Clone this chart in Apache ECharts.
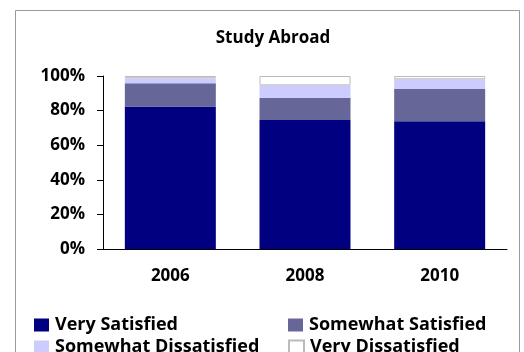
<!DOCTYPE html>
<html>
<head>
<meta charset="utf-8">
<script src="https://cdn.jsdelivr.net/npm/echarts@6/dist/echarts.min.js"></script>
<style>
html,body{margin:0;padding:0;background:#fff;}
#main{width:524px;height:352px;}
</style>
</head>
<body>
<div id="main"></div>
<script>
var years = ['2006', '2008', '2010'];
var verySatisfied = [82.3, 74.6, 73.8];
var somewhatSatisfied = [13.5, 12.9, 18.7];
var somewhatDissatisfied = [2.9, 7.1, 5.6];
var veryDissatisfied = [1.3, 5.4, 1.9];
var yTicks = [0, 20, 40, 60, 80, 100];

var font = '"Open Sans", sans-serif';

function bar(name, data, color, border){
	return {
		name : name,
		type : 'bar',
		stack : 'total',
		barWidth : 91,
		data : data,
		itemStyle : {
			color : color,
			borderColor : border || color,
			borderWidth : border ? 1 : 0
		}
	};
}

//每个图例单独放，两列两行
function leg(name, left, top){
	return {
		data : [name],
		left : left,
		top : top,
		itemWidth : 15,
		itemHeight : 13,
		itemGap : 0,
		icon : 'rect',
		textStyle : { fontFamily : font, fontSize : 18, fontWeight : 'bold', color : '#000', lineHeight : 22, padding : [0, 0, 0, 1] }
	};
}

var myChart = echarts.init(document.getElementById('main'));
var option = {
	backgroundColor : '#fff',
	animation : false,
	textStyle : { fontFamily : font },
	graphic : [ {
		type : 'rect',
		shape : { x : 15.5, y : 10.5, width : 504, height : 360 },
		style : { fill : 'none', stroke : '#9a9a9a', lineWidth : 1 }
	} ],
	title : {
		text : 'Study Abroad',
		left : 268,
		textAlign : 'center',
		top : 25,
		textStyle : { fontFamily : font, fontSize : 17, fontWeight : 'bold', color : '#000' }
	},
	legend : [
		leg('Very Satisfied', 29, 309),
		leg('Somewhat Dissatisfied', 29, 331),
		leg('Somewhat Satisfied', 283, 309),
		leg('Very Dissatisfied', 283, 331)
	],
	grid : {
		left : 103,
		right : 17,
		top : 76,
		bottom : 103
	},
	xAxis : {
		type : 'category',
		data : years,
		axisLine : { lineStyle : { color : '#000', width : 1 } },
		axisTick : { show : false },
		axisLabel : { fontFamily : font, fontSize : 17, fontWeight : 'bold', color : '#000', margin : 19 }
	},
	yAxis : {
		type : 'value',
		min : yTicks[0],
		max : yTicks[yTicks.length - 1],
		interval : 20,
		splitLine : { show : false },
		axisLine : { show : true, lineStyle : { color : '#000', width : 1 } },
		axisTick : { show : true, length : 6, lineStyle : { color : '#000' } },
		axisLabel : {
			fontFamily : font, fontSize : 17, fontWeight : 'bold', color : '#000', margin : 18,
			formatter : '{value}%'
		}
	},
	series : [
		bar('Very Satisfied', verySatisfied, '#000080'),
		bar('Somewhat Satisfied', somewhatSatisfied, '#666699'),
		bar('Somewhat Dissatisfied', somewhatDissatisfied, '#ccccff'),
		bar('Very Dissatisfied', veryDissatisfied, '#ffffff', '#bbbbbb')
	]
};
myChart.setOption(option);
</script>
</body>
</html>
